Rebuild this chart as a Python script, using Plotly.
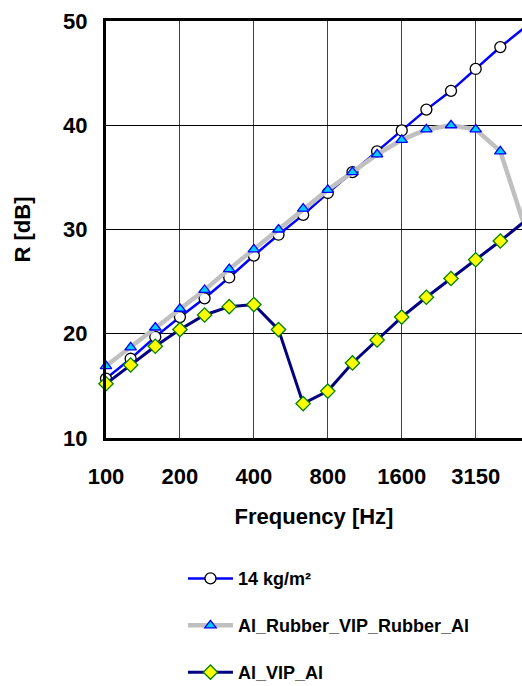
import plotly.graph_objects as go

freqs = ["100", "125", "160", "200", "250", "315", "400", "500", "630", "800",
         "1000", "1250", "1600", "2000", "2500", "3150", "4000", "5000"]
tick_labels = ["100", "200", "400", "800", "1600", "3150"]

r_14kg = [15.7, 17.6, 19.7, 21.6, 23.4, 25.4, 27.5, 29.5, 31.4, 33.5,
          35.5, 37.5, 39.5, 41.5, 43.3, 45.4, 47.5, 49.4]
r_rubber = [16.9, 18.7, 20.6, 22.4, 24.2, 26.2, 28.1, 30.0, 32.0, 33.8,
            35.5, 37.2, 38.6, 39.6, 40.0, 39.6, 37.5, 30.2]
r_vip = [15.2, 17.0, 18.8, 20.4, 21.8, 22.6, 22.8, 20.4, 13.3, 14.5,
         17.2, 19.4, 21.6, 23.5, 25.3, 27.1, 28.9, 30.8]

names = ["14 kg/m²", "Al_Rubber_VIP_Rubber_Al", "Al_VIP_Al"]

FONT = "Arial, Liberation Sans, sans-serif"

fig = go.Figure()
fig.add_trace(go.Scatter(
    x=freqs, y=r_14kg, name=names[0], mode="lines+markers", legendgroup="a",
    line=dict(color="#0000FF", width=2.5),
    marker=dict(symbol="circle", size=11, color="#FFFFFF",
                line=dict(color="#000000", width=1.3)),
    cliponaxis=False))
fig.add_trace(go.Scatter(
    x=freqs, y=r_rubber, name=names[1], mode="lines+markers", legendgroup="b",
    line=dict(color="#C0C0C0", width=4.5),
    marker=dict(symbol="triangle-up", size=10, color="#00CCFF",
                line=dict(color="#0000FF", width=1.3)),
    cliponaxis=False))
fig.add_trace(go.Scatter(
    x=freqs, y=r_vip, name=names[2], mode="lines+markers", legendgroup="c",
    line=dict(color="#000080", width=3),
    marker=dict(symbol="diamond", size=11, color="#FFFF00",
                line=dict(color="#008000", width=1.3)),
    cliponaxis=False))

fig.update_layout(
    width=522, height=686,
    margin=dict(l=106, r=0, t=21, b=248, autoexpand=False),
    plot_bgcolor="#FFFFFF", paper_bgcolor="#FFFFFF",
    font=dict(family=FONT, color="#000000", size=20, weight="bold"),
    showlegend=True,
    legend=dict(
        x=0.185, y=-0.293, xanchor="left", yanchor="top",
        orientation="v", tracegroupgap=20.5, itemwidth=45,
        font=dict(family=FONT, size=18, color="#000000", weight="bold"),
        bgcolor="rgba(0,0,0,0)",
    ),
)
fig.update_xaxes(
    type="category", categoryorder="array", categoryarray=freqs,
    range=[0, 16.88],
    tickmode="array", tickvals=tick_labels, ticktext=tick_labels,
    showgrid=True, gridcolor="#404040", gridwidth=1,
    showline=True, linecolor="#000000", linewidth=3, mirror=True,
    ticks="", ticklabelstandoff=17,
    tickfont=dict(family=FONT, size=22, weight="bold"),
    title=dict(text="Frequency [Hz]", standoff=21,
               font=dict(family=FONT, size=22, weight="bold")),
    zeroline=False,
)
fig.update_yaxes(
    range=[10, 50], tickmode="array", tickvals=[10, 20, 30, 40, 50],
    showgrid=True, gridcolor="#000000", gridwidth=1,
    showline=True, linecolor="#000000", linewidth=3, mirror=False,
    ticks="", ticklabelstandoff=11,
    tickfont=dict(family=FONT, size=22, weight="bold"),
    title=dict(text="R [dB]", standoff=27,
               font=dict(family=FONT, size=22, weight="bold")),
    zeroline=False,
)

fig.write_html("out.html", config={"displayModeBar": False},
               post_script="document.body.style.margin='0';document.body.style.overflow='hidden';")
